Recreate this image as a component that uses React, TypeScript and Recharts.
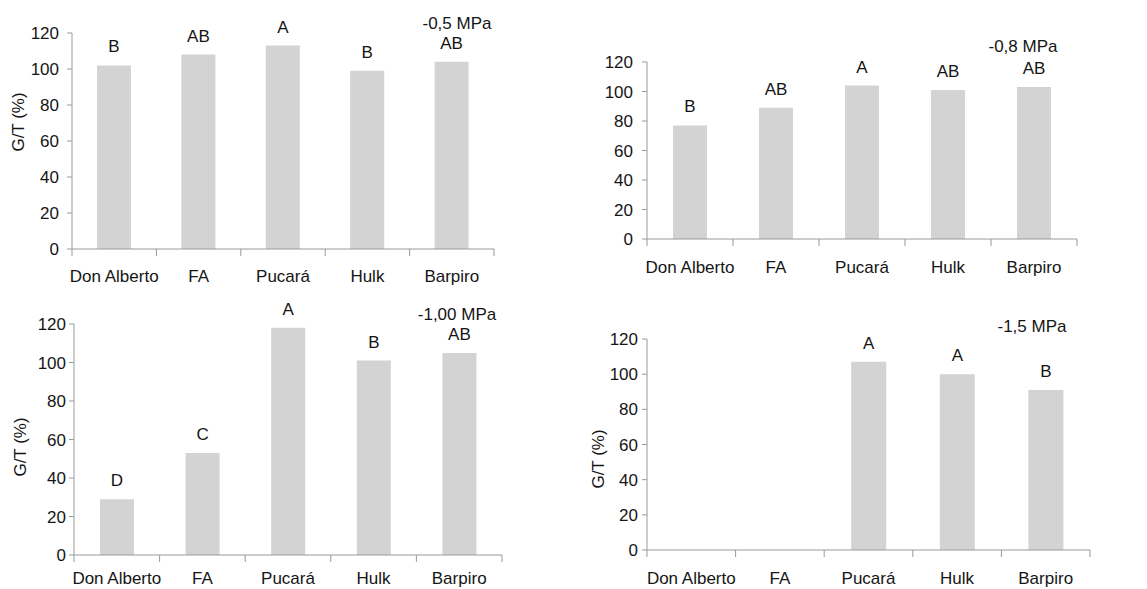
import { BarChart, Bar, XAxis, YAxis, LabelList } from "recharts";

// Germination / control (%) per cultivar at four osmotic potentials
const cultivars = ["Don Alberto", "FA", "Pucará", "Hulk", "Barpiro"];
const yTicks = [0, 20, 40, 60, 80, 100, 120];

const gt05 = [102, 108, 113, 99, 104];
const letters05 = ["B", "AB", "A", "B", "AB"];

const gt08 = [77, 89, 104, 101, 103];
const letters08 = ["B", "AB", "A", "AB", "AB"];

const gt10 = [29, 53, 118, 101, 105];
const letters10 = ["D", "C", "A", "B", "AB"];

const gt15 = [0, 0, 107, 100, 91];
const letters15 = ["", "", "A", "A", "B"];

const titles = ["-0,5 MPa", "-0,8 MPa", "-1,00 MPa", "-1,5 MPa"];
const yLabel = "G/T (%)";

const BAR = "#d3d3d3";
const AXIS = "#9a9a9a";
const INK = "#151515";
const FONT = '"Liberation Sans", Arial, sans-serif';

const build = (values: number[], letters: string[]) =>
  cultivars.map((name, i) => ({ name, value: values[i], letter: letters[i] }));

// page layout of each panel (box + plot rectangle in page px)
const panels = [
  { data: build(gt05, letters05), box: [0, 0, 575, 290], plot: [72, 494, 33, 249], xh: 40, catDy: 33, tickGap: 8, barSize: 34, title: [457, 29], ylab: [18, 122] },
  { data: build(gt08, letters08), box: [575, 0, 572, 290], plot: [647, 1077, 62, 239], xh: 40, catDy: 34, tickGap: 9, barSize: 34, title: [1023, 52], ylab: null },
  { data: build(gt10, letters10), box: [0, 290, 575, 299], plot: [74, 502, 324, 555], xh: 34, catDy: 29, tickGap: 3, barSize: 34, title: [457, 320], ylab: [20, 447] },
  { data: build(gt15, letters15), box: [575, 290, 572, 299], plot: [647, 1090, 339, 550], xh: 34, catDy: 34, tickGap: 4, barSize: 35, title: [1032, 332], ylab: [598, 459] },
];

const CatTick = (props: any) => {
  const { x, y, payload, index, band, dy } = props;
  const left = x - band / 2;
  return (
    <g>
      <line x1={left} x2={left} y1={y} y2={y + 7} stroke={AXIS} />
      {index === cultivars.length - 1 && (
        <line x1={x + band / 2} x2={x + band / 2} y1={y} y2={y + 7} stroke={AXIS} />
      )}
      <text x={x} y={y + dy} textAnchor="middle" fill={INK} fontSize={17}>
        {payload.value}
      </text>
    </g>
  );
};

const Panel = ({ p }: { p: (typeof panels)[number] }) => {
  const [L, T, W, H] = p.box;
  const [x0, x1, yTop, yBottom] = p.plot;
  const band = (x1 - x0) / cultivars.length;
  return (
    <div style={{ position: "absolute", left: L, top: T }}>
      <BarChart
        width={W}
        height={H}
        data={p.data}
        margin={{ top: yTop - T, right: L + W - x1, left: 0, bottom: T + H - yBottom - p.xh }}
      >
        <XAxis
          dataKey="name"
          height={p.xh}
          interval={0}
          tickLine={false}
          tickSize={0}
          tickMargin={0}
          axisLine={{ stroke: AXIS }}
          tick={(tp: any) => <CatTick {...tp} band={band} dy={p.catDy} />}
        />
        <YAxis
          width={x0 - L}
          domain={[0, 120]}
          ticks={yTicks}
          interval={0}
          tickSize={5}
          tickMargin={p.tickGap}
          axisLine={{ stroke: AXIS }}
          tickLine={{ stroke: AXIS }}
          tick={{ fill: INK, fontSize: 17 }}
        />
        <Bar dataKey="value" fill={BAR} barSize={p.barSize} isAnimationActive={false}>
          <LabelList dataKey="letter" position="top" offset={13} fill={INK} fontSize={17} />
        </Bar>
      </BarChart>
    </div>
  );
};

export default function App() {
  return (
    <div
      style={{
        position: "absolute",
        left: 0,
        top: 0,
        width: 1147,
        height: 589,
        background: "#fff",
        fontFamily: FONT,
        overflow: "hidden",
      }}
    >
      {panels.map((p, i) => (
        <Panel key={i} p={p} />
      ))}
      <svg
        width={1147}
        height={589}
        style={{ position: "absolute", left: 0, top: 0, pointerEvents: "none" }}
      >
        {panels.map((p, i) => (
          <g key={i}>
            <text x={p.title[0]} y={p.title[1]} textAnchor="middle" fill={INK} fontSize={17}>
              {titles[i]}
            </text>
            {p.ylab && (
              <text
                x={p.ylab[0]}
                y={p.ylab[1]}
                transform={`rotate(-90 ${p.ylab[0]} ${p.ylab[1]})`}
                textAnchor="middle"
                dominantBaseline="central"
                fill={INK}
                fontSize={17}
              >
                {yLabel}
              </text>
            )}
          </g>
        ))}
      </svg>
    </div>
  );
}
